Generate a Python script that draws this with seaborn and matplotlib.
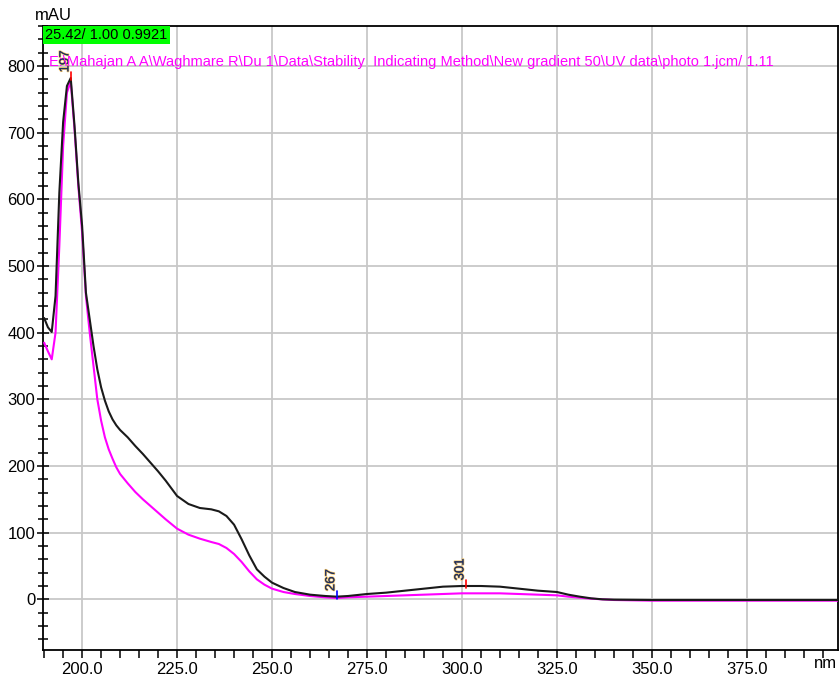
import numpy as np
import pandas as pd
import matplotlib
matplotlib.use("Agg")
import matplotlib.pyplot as plt
import matplotlib.patheffects as pe
from matplotlib.ticker import MultipleLocator, FormatStrFormatter
import seaborn as sns

# UV spectra (wavelength in nm, absorbance in mAU)
wavelength = [190, 191, 192, 193, 194, 195, 196, 197, 198, 199, 200, 201, 202, 203,
              204, 205, 206, 207, 208, 209, 210, 212, 214, 216, 218, 220, 222, 225,
              228, 231, 234, 236, 238, 240, 242, 244, 246, 248, 250, 253, 256, 260,
              264, 267, 270, 275, 280, 285, 290, 295, 300, 305, 310, 315, 320, 325,
              328, 331, 334, 337, 340, 350, 360, 370, 380, 390, 400]
sample_mau = [422, 408, 401, 455, 610, 716, 770, 782, 710, 625, 560, 460, 420, 380,
              345, 318, 298, 282, 270, 261, 254, 243, 230, 218, 205, 192, 178, 155,
              143, 137, 135, 132, 125, 112, 90, 66, 45, 34, 25, 17, 11, 7,
              5, 4, 5, 8, 10, 13, 16, 19, 20, 20, 19, 16, 13, 11,
              7, 4, 1.5, 0, -0.5, -1, -1, -1, -1, -1, -1]
reference_mau = [385, 372, 360, 400, 530, 680, 760, 777, 705, 620, 550, 455, 400, 350,
                 300, 268, 243, 225, 211, 198, 188, 174, 161, 150, 140, 130, 120, 106,
                 97, 91, 86, 83, 77, 68, 56, 42, 30, 22, 16, 11, 8, 5,
                 3, 2, 3, 4, 5, 6, 7, 8, 9, 9, 9, 8, 7, 6,
                 4, 2.5, 1, 0, -1, -2, -2, -2, -2, -2, -2]

# Peak / valley annotations on the sample spectrum
peak_nm = [197, 267, 301]
peak_mau = [782, 4, 20]
peak_labels = ["197", "267", "301"]
peak_tick_colors = ["#ff0000", "#0000ff", "#ff0000"]

header_text = "25.42/ 1.00 0.9921"
file_text = ("E:\\Mahajan A A\\Waghmare R\\Du 1\\Data\\Stability  Indicating Method"
             "\\New gradient 50\\UV data\\photo 1.jcm/ 1.11")

df = pd.DataFrame({"nm": wavelength, "sample": sample_mau, "reference": reference_mau})

sns.set_style("ticks")
plt.rcParams["font.family"] = ["Liberation Sans", "DejaVu Sans"]
plt.rcParams["text.color"] = "black"
plt.rcParams["xtick.color"] = "black"
plt.rcParams["ytick.color"] = "black"

fig = plt.figure(figsize=(8.4, 6.76), dpi=100)
ax = fig.add_axes([43 / 840, 1 - 650 / 676, 795 / 840, 624 / 676])

sns.lineplot(data=df, x="nm", y="reference", color="#ff00ff", linewidth=1.5,
             estimator=None, sort=False, ax=ax, zorder=3)
sns.lineplot(data=df, x="nm", y="sample", color="#1a1a1a", linewidth=1.5,
             estimator=None, sort=False, ax=ax, zorder=4)

ax.set_xlim(189.7, 399.0)
ax.set_ylim(-76, 860)

ax.xaxis.set_major_locator(MultipleLocator(25))
ax.xaxis.set_minor_locator(MultipleLocator(5))
ax.xaxis.set_major_formatter(FormatStrFormatter("%.1f"))
ax.yaxis.set_major_locator(MultipleLocator(100))
ax.yaxis.set_minor_locator(MultipleLocator(20))

ax.grid(True, which="major", color="#c8c8c8", linewidth=1.3)
ax.set_axisbelow(True)
ax.tick_params(axis="x", which="both", bottom=True, direction="out", length=6,
               width=1.1, labelsize=12, pad=3)
ax.tick_params(axis="y", which="major", left=True, direction="inout", length=9,
               width=1.1, labelsize=12, pad=1)
ax.tick_params(axis="y", which="minor", left=True, direction="inout", length=7,
               width=1.1)
ax.set_xlabel("")
ax.set_ylabel("")
for s in ax.spines.values():
    s.set_visible(True)
    s.set_color("black")
    s.set_linewidth(1.3)

# Peak labels with short tick marks at the apex
for x, y, lab, c in zip(peak_nm, peak_mau, peak_labels, peak_tick_colors):
    ax.plot([x, x], [y - 3, y + 9], color=c, linewidth=1.2, zorder=6)
    t = ax.annotate(lab, xy=(x, y), xytext=(0.5, 4), textcoords="offset points",
                    rotation=90, ha="right", va="bottom", fontsize=9.5,
                    color="#1f2f5f", zorder=7)
    t.set_path_effects([pe.withStroke(linewidth=1.2, foreground="#f2c46a"),
                        pe.Normal()])

# Header box and file path
ax.text(0.003, 0.997, header_text, transform=ax.transAxes, ha="left", va="top",
        fontsize=10.5, color="black", zorder=8,
        bbox=dict(boxstyle="square,pad=0.15", facecolor="#00ff00", edgecolor="none"))
ax.text(0.007, 0.943, file_text, transform=ax.transAxes, ha="left", va="center",
        fontsize=10.5, color="#ff00ff", zorder=8)

fig.text(35 / 840, 1 - 16 / 676, "mAU", ha="left", va="center", fontsize=12)
fig.text(837 / 840, 1 - 664 / 676, "nm", ha="right", va="center", fontsize=12)

fig.savefig("out.png", dpi=100)
